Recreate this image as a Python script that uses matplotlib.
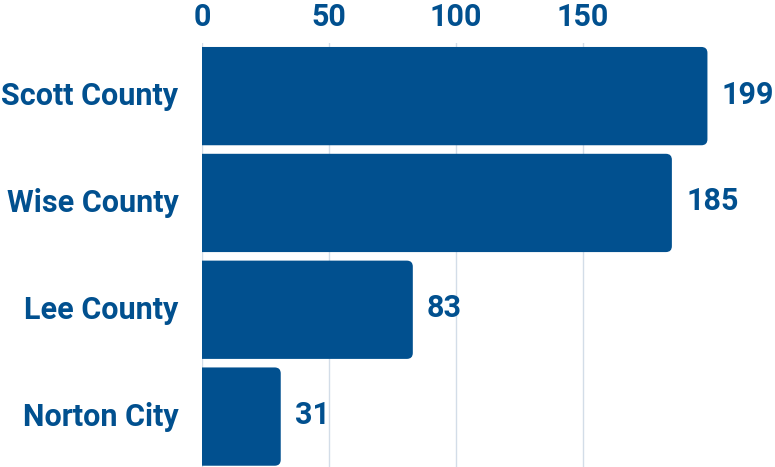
import matplotlib
matplotlib.use('Agg')
import matplotlib.pyplot as plt
from matplotlib.patches import FancyBboxPatch

places = ['Scott County', 'Wise County', 'Lee County', 'Norton City']
counts = [199, 185, 83, 31]
x_ticks = [0, 50, 100, 150]

blue = '#01508f'
grid_col = '#d3dde8'

plt.rcParams['font.family'] = ['Roboto', 'DejaVu Sans']

fig = plt.figure(figsize=(7.75, 4.67), dpi=100)
ax = fig.add_axes([202 / 775, -3 / 467, 1 - 202 / 775, 427.3 / 467])

pos = list(range(len(places)))
bars = ax.barh(pos, counts, height=0.92, color=blue, zorder=2)

ax.set_xlim(0, 225.6)
ax.set_ylim(len(places) - 0.5, -0.5)

# swap plain bars for ones with rounded right corners (~6 px)
r_x = 6 / 2.54
r_y = 6 / 106.8
for b in bars:
    x0, y0 = b.get_x(), b.get_y()
    w, h = b.get_width(), b.get_height()
    fb = FancyBboxPatch((x0 - r_x * 2, y0), w + r_x * 2, h,
                        boxstyle=f'round,pad=0,rounding_size={r_x}',
                        mutation_aspect=r_y / r_x,
                        facecolor=blue, edgecolor='none', zorder=2)
    ax.add_patch(fb)
    b.remove()

for p, v in zip(pos, counts):
    ax.text(v + 5.6, p - 0.015, str(v), va='center', ha='left', color=blue,
            fontsize=22, fontweight='bold')

ax.xaxis.tick_top()
ax.set_xticks(x_ticks)
ax.set_xticklabels([str(t) for t in x_ticks])
ax.set_yticks(pos)
ax.set_yticklabels(places)
ax.tick_params(axis='x', length=0, pad=8, labelsize=22, labelcolor=blue)
ax.tick_params(axis='y', length=0, pad=17, labelsize=22, labelcolor=blue)
for lbl in ax.get_xticklabels() + ax.get_yticklabels():
    lbl.set_fontweight('bold')
    lbl.set_y(lbl.get_position()[1])
for lbl in ax.get_yticklabels():
    lbl.set_verticalalignment('center')

ax.grid(axis='x', color=grid_col, linewidth=1, zorder=0)
ax.set_axisbelow(True)
for s in ax.spines.values():
    s.set_visible(False)

fig.savefig('out.png', dpi=100)
